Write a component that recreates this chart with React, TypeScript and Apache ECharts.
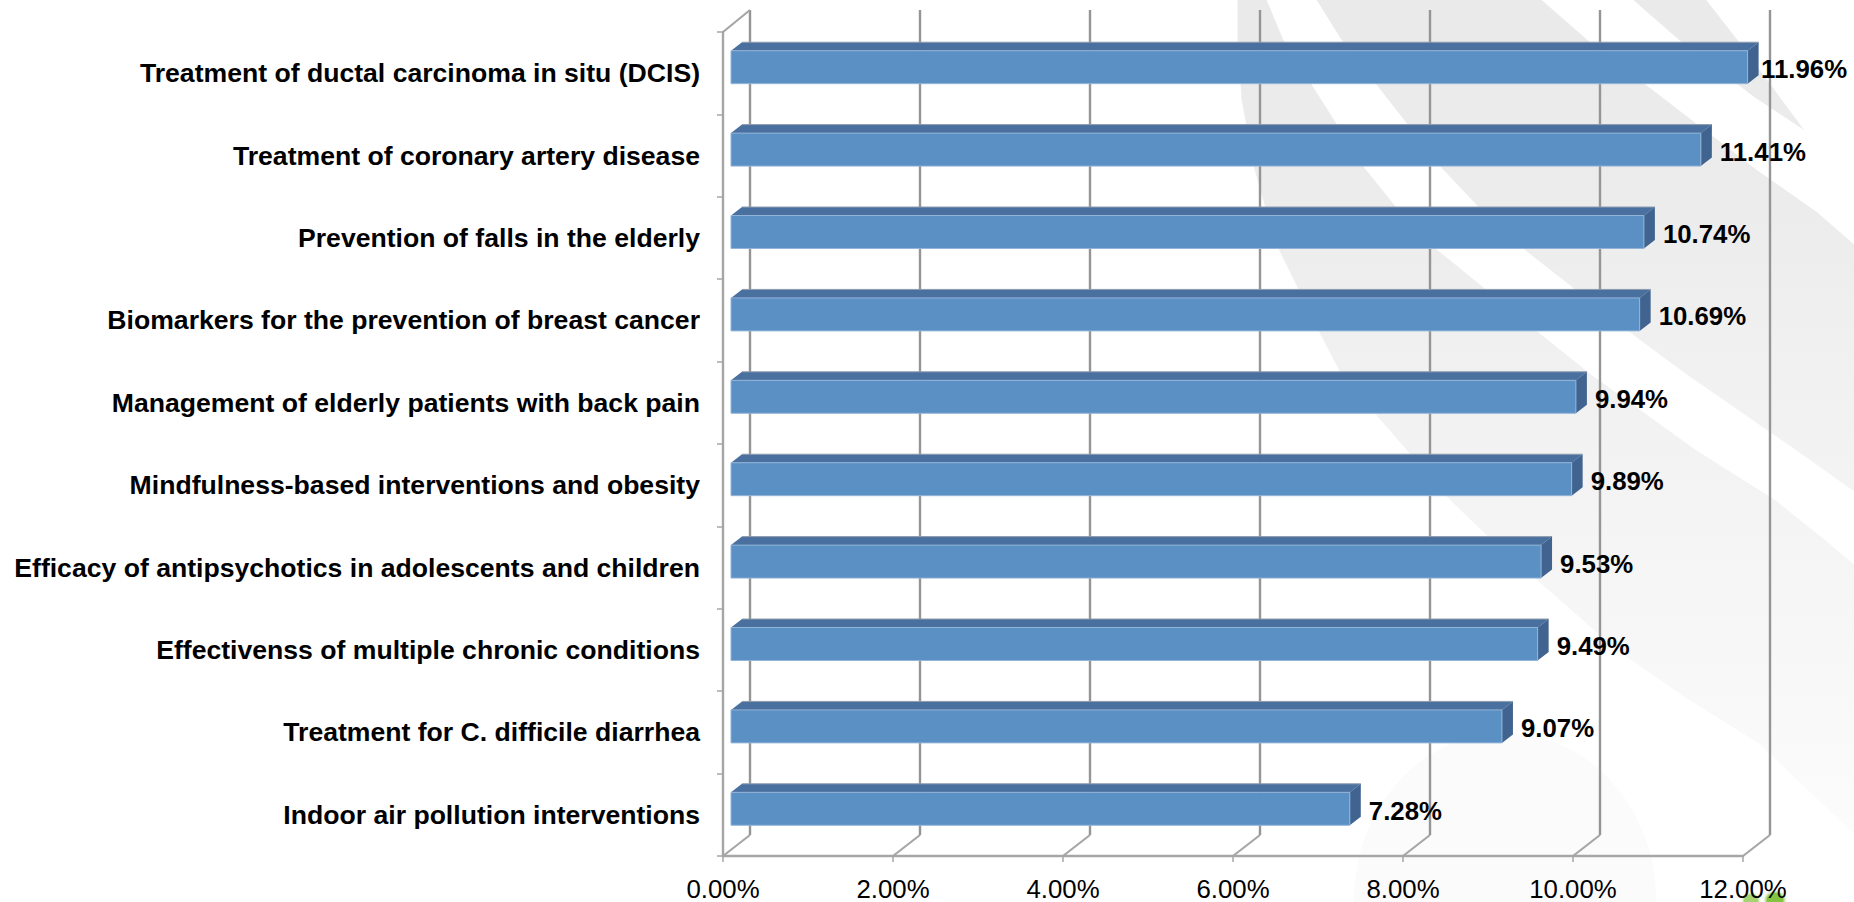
import React, { useEffect, useRef } from "react";
import * as echarts from "echarts";

const categories = [
  "Treatment of ductal carcinoma in situ (DCIS)",
  "Treatment of coronary artery disease",
  "Prevention of falls in the elderly",
  "Biomarkers for the prevention of breast cancer",
  "Management of elderly patients with back pain",
  "Mindfulness-based interventions and obesity",
  "Efficacy of antipsychotics in adolescents and children",
  "Effectivenss of multiple chronic conditions",
  "Treatment for C. difficile diarrhea",
  "Indoor air pollution interventions",
];
const values = [11.96, 11.41, 10.74, 10.69, 9.94, 9.89, 9.53, 9.49, 9.07, 7.28];
const xTicks = [0, 2, 4, 6, 8, 10, 12];

const FONT = '"Liberation Sans", Arial, sans-serif';
const GRID = { left: 723, top: 32, width: 1020, height: 825 };
const WALL_DX = 27;
const WALL_DY = 21;
const BAR_DX = 8;
const BAR_DY = 6;
const TOP_DX = 11;
const TOP_DY = 8.5;
const LABEL_MAX_X = 1761;

// background swoosh outlines, in zoomed-crop units
const px = (p: number) => 1200 + p / 2.4;
const toPts = (a: number[][]) => a.map(([p, y]) => [px(p), y]);
const band1 = toPts([
  [90, 0], [160, 0], [200, 40], [395, 168], [480, 212], [570, 250], [820, 335], [940, 375],
  [1190, 450], [1380, 500], [1500, 540], [1572, 565], [1572, 835], [1340, 743], [1174, 700],
  [1000, 650], [700, 540], [600, 500], [340, 375], [290, 335], [190, 250], [160, 212],
  [130, 168], [100, 100], [90, 40],
]);
const band2 = toPts([
  [280, 0], [820, 0], [930, 40], [1330, 168], [1480, 212], [1572, 245], [1572, 492], [1430, 450],
  [1170, 375], [1040, 335], [780, 250], [680, 212], [580, 168], [340, 40],
]);
const band3 = toPts([[1040, 0], [1215, 0], [1290, 40], [1450, 130], [1330, 97], [1150, 40]]);

const fadeGlobal = {
  type: "linear", x: 0, y: 0, x2: 0, y2: 850, global: true,
  colorStops: [
    { offset: 0, color: "#eaeaea" },
    { offset: 0.25, color: "#ececec" },
    { offset: 0.4, color: "#f0f0f0" },
    { offset: 0.6, color: "#f4f4f4" },
    { offset: 0.8, color: "#f8f8f8" },
    { offset: 1, color: "#fcfcfc" },
  ],
};
const greenGlow = (c: string) => ({
  type: "radial", x: 0.5, y: 0.5, r: 0.5,
  colorStops: [
    { offset: 0, color: c },
    { offset: 0.6, color: c },
    { offset: 1, color: "rgba(255,255,255,0)" },
  ],
});

function renderGridLine(params: any, api: any) {
  const v = api.value(0);
  const [x, y] = api.coord([v, categories.length - 1]);
  const bottom = y + api.size([0, 1])[1] / 2;
  const shapes: any[] = [
    {
      type: "line",
      shape: { x1: x, y1: bottom, x2: x + WALL_DX, y2: bottom - WALL_DY },
      style: { stroke: "#a6a6a6", lineWidth: 2.2 },
    },
    {
      type: "line",
      shape: { x1: x + WALL_DX, y1: bottom - WALL_DY, x2: x + WALL_DX, y2: GRID.top - WALL_DY - 1 },
      style: { stroke: "#959595", lineWidth: 2.4 },
    },
  ];
  if (v === 0) {
    shapes.push({
      type: "line",
      shape: { x1: x, y1: GRID.top, x2: x + WALL_DX, y2: GRID.top - WALL_DY - 1 },
      style: { stroke: "#a6a6a6", lineWidth: 2.2 },
    });
  }
  return { type: "group", children: shapes };
}

function renderBar(params: any, api: any) {
  const v = api.value(0);
  const zero = api.coord([0, api.value(1)]);
  const end = api.coord([v, api.value(1)]);
  const band = api.size([0, 1])[1];
  const h = band * 0.4;
  const x0 = zero[0] + BAR_DX;
  const x1 = end[0] + BAR_DX;
  const yc = end[1] - BAR_DY;
  const y0 = yc - h / 2;
  const y1 = yc + h / 2;
  return {
    type: "group",
    children: [
      {
        type: "polygon",
        shape: { points: [[x0, y0], [x0 + TOP_DX, y0 - TOP_DY], [x1 + TOP_DX, y0 - TOP_DY], [x1, y0]] },
        style: { fill: "#4a70a0" },
      },
      {
        type: "line",
        shape: { x1: x0 + TOP_DX, y1: y0 - TOP_DY, x2: x1 + TOP_DX, y2: y0 - TOP_DY },
        style: { stroke: "#8f9cad", lineWidth: 1 },
      },
      {
        type: "polygon",
        shape: { points: [[x1, y0], [x1 + TOP_DX, y0 - TOP_DY], [x1 + TOP_DX, y1 - TOP_DY], [x1, y1]] },
        style: { fill: "#40648f" },
      },
      {
        type: "rect",
        shape: { x: x0, y: y0, width: x1 - x0, height: h },
        style: { fill: "#5b90c5", stroke: "#93b4d8", lineWidth: 1 },
      },
      {
        type: "text",
        style: {
          x: Math.min(x1 + 19, LABEL_MAX_X),
          y: yc + 2,
          text: v.toFixed(2) + "%",
          fill: "#000",
          font: `bold 25.8px ${FONT}`,
          verticalAlign: "middle",
          align: "left",
        },
      },
    ],
  };
}

export default function App() {
  const ref = useRef<HTMLDivElement>(null);
  useEffect(() => {
    document.body.style.margin = "0";
    document.body.style.background = "#fff";
    const chart = echarts.init(ref.current!, null, { renderer: "svg" });
    chart.setOption({
      animation: false,
      backgroundColor: "#ffffff",
      grid: { left: GRID.left, top: GRID.top, width: GRID.width, height: GRID.height, containLabel: false },
      graphic: [
        { type: "ellipse", z: -10, silent: true, shape: { cx: 1505, cy: 900, rx: 151, ry: 167 }, style: { fill: "#fbfbfb" } },
        { type: "polygon", z: -10, silent: true, shape: { points: band1 }, style: { fill: fadeGlobal } },
        { type: "polygon", z: -10, silent: true, shape: { points: band2 }, style: { fill: fadeGlobal } },
        { type: "polygon", z: -10, silent: true, shape: { points: band3 }, style: { fill: fadeGlobal } },
        { type: "ellipse", z: -9, silent: true, shape: { cx: 1751, cy: 901, rx: 11, ry: 10 }, style: { fill: greenGlow("#a5d36f") } },
        { type: "ellipse", z: -9, silent: true, shape: { cx: 1775, cy: 900, rx: 13, ry: 11 }, style: { fill: greenGlow("#84c341") } },
      ],
      xAxis: {
        type: "value",
        min: 0,
        max: 12,
        interval: 2,
        splitLine: { show: false },
        axisLine: { show: true, onZero: false, lineStyle: { color: "#a6a6a6", width: 2.4 } },
        axisTick: { show: true, length: 6, lineStyle: { color: "#a6a6a6", width: 1.5 } },
        axisLabel: {
          margin: 20,
          color: "#000",
          fontFamily: FONT,
          fontSize: 25.8,
          showMaxLabel: true,
          formatter: (v: number) => v.toFixed(2) + "%",
        },
      },
      yAxis: {
        type: "category",
        inverse: true,
        data: categories,
        axisLine: { show: true, lineStyle: { color: "#a6a6a6", width: 2.4 } },
        axisTick: { show: true, length: 6, lineStyle: { color: "#a6a6a6", width: 1.5 } },
        axisLabel: {
          margin: 23,
          color: "#000",
          fontFamily: FONT,
          fontWeight: "bold",
          fontSize: 26.6,
          interval: 0,
          padding: [10, 0, 0, 0],
        },
      },
      series: [
        {
          type: "custom",
          name: "grid",
          clip: false,
          z: 1,
          encode: { x: 0 },
          data: xTicks.map((t) => [t]),
          renderItem: renderGridLine,
          silent: true,
        },
        {
          type: "custom",
          name: "share",
          clip: false,
          z: 3,
          encode: { x: 0, y: 1 },
          data: values.map((v, i) => [v, i]),
          renderItem: renderBar,
        },
      ],
    });
    return () => chart.dispose();
  }, []);
  return <div ref={ref} style={{ width: 1854, height: 902, overflow: "hidden" }} />;
}
